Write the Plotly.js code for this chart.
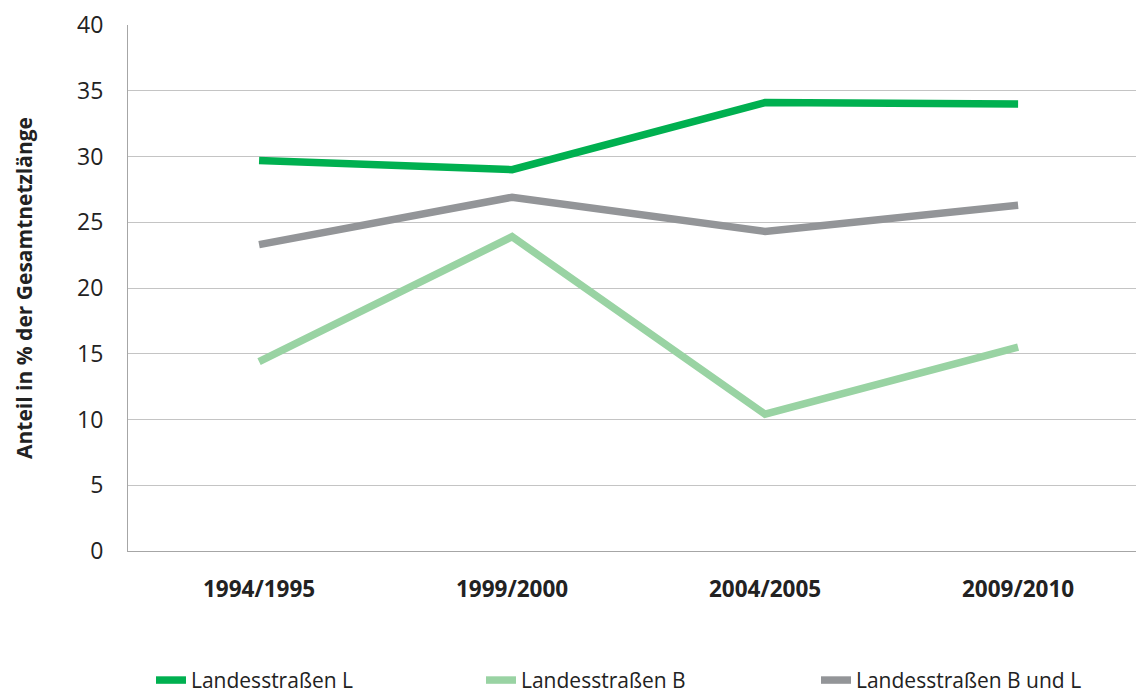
<!DOCTYPE html>
<html>
<head>
<meta charset="utf-8">
<script src="https://cdn.plot.ly/plotly-3.0.1.min.js"></script>
<style>html,body{margin:0;padding:0;background:#fff;}#chart{width:1136px;height:695px;}</style>
</head>
<body>
<div id="chart"></div>
<script>
const categories = ["1994/1995", "1999/2000", "2004/2005", "2009/2010"];
const seriesNames = ["Landesstraßen L", "Landesstraßen B", "Landesstraßen B und L"];
const valuesL = [29.7, 29.0, 34.1, 34.0];
const valuesB = [14.4, 23.9, 10.4, 15.5];
const valuesBL = [23.3, 26.9, 24.3, 26.3];
const yTicks = [0, 5, 10, 15, 20, 25, 30, 35, 40];
const colors = ["#00b050", "#99d3a3", "#939598"];

const font = "'Open Sans', 'DejaVu Sans', sans-serif";
const allValues = [valuesL, valuesB, valuesBL];
const legendIds = ["legend", "legend2", "legend3"];
const legendX = [0.1329, 0.4234, 0.7183];

const traces = allValues.map((vals, i) => ({
  type: "scatter",
  mode: "lines",
  x: categories,
  y: vals,
  name: seriesNames[i],
  legend: legendIds[i],
  line: {color: colors[i], width: 7.5}
}));

const layout = {
  width: 1136,
  height: 695,
  margin: {l: 128, r: 0, t: 25, b: 144, autoexpand: false},
  paper_bgcolor: "#ffffff",
  plot_bgcolor: "#ffffff",
  font: {family: font, color: "#222222"},
  showlegend: true,
  xaxis: {
    type: "category",
    range: [-0.518, 3.466],
    showgrid: false,
    showline: true,
    linecolor: "#a6a6a6",
    linewidth: 1,
    ticks: "",
    tickfont: {size: 22.5, family: font, weight: "bold", color: "#222222"},
    ticklabelstandoff: 18,
    zeroline: false,
    fixedrange: true
  },
  yaxis: {
    range: [0, 40],
    tickvals: yTicks,
    ticktext: yTicks.map(String),
    showgrid: true,
    gridcolor: "#c4c4c4",
    gridwidth: 1,
    showline: true,
    linecolor: "#a6a6a6",
    linewidth: 1,
    ticks: "",
    ticklabelstandoff: 19,
    tickfont: {size: 23, family: font, color: "#222222"},
    zeroline: false,
    title: {
      text: "Anteil in % der Gesamtnetzlänge",
      font: {size: 21, family: font, weight: "bold", color: "#222222"},
      standoff: 38
    },
    fixedrange: true
  }
};

legendIds.forEach((id, i) => {
  layout[id] = {
    orientation: "h",
    xref: "container",
    x: legendX[i],
    xanchor: "left",
    yref: "container",
    y: 0.021,
    yanchor: "middle",
    bgcolor: "rgba(0,0,0,0)",
    font: {size: 21, color: "#222222", family: font}
  };
});

Plotly.newPlot("chart", traces, layout, {displayModeBar: false, staticPlot: true});
</script>
</body>
</html>
